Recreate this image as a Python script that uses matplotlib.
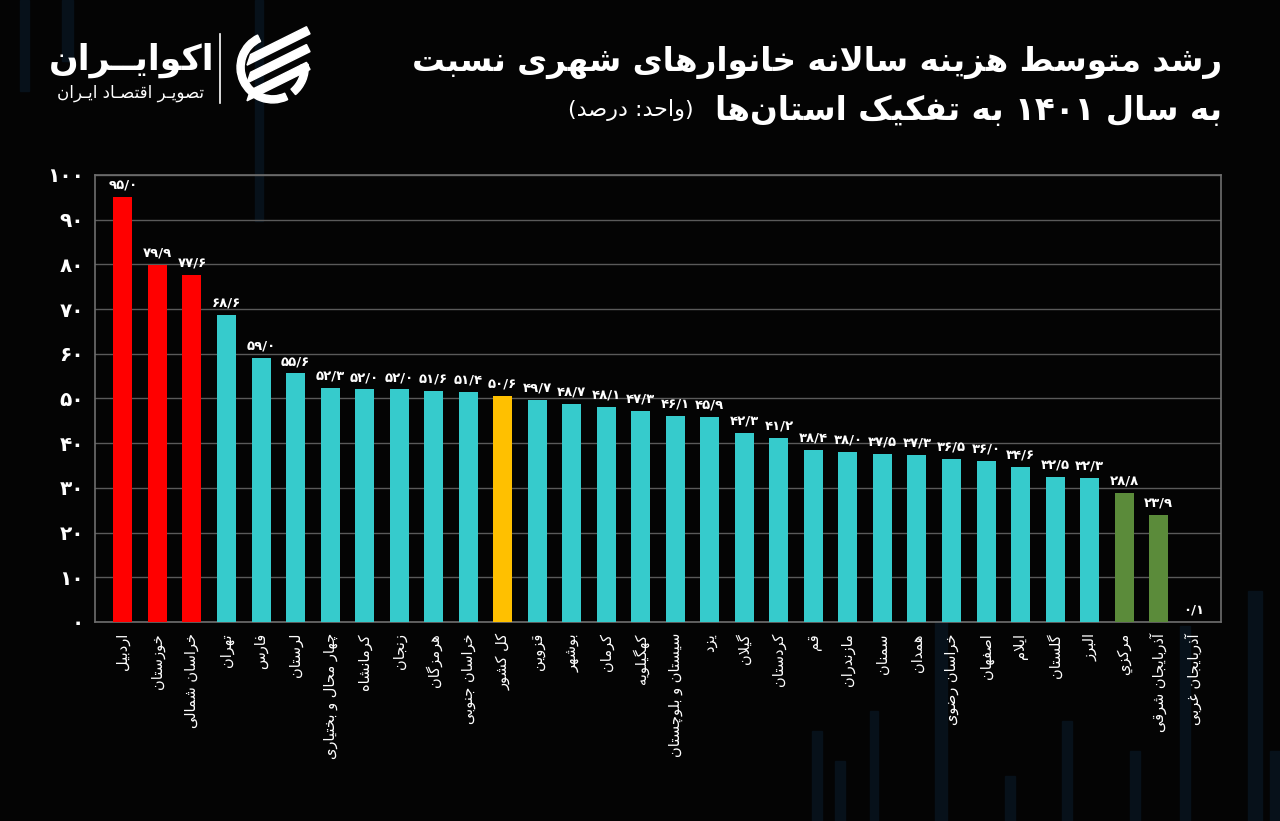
import re
import matplotlib
matplotlib.use("Agg")
import matplotlib.pyplot as plt
from matplotlib.patches import Wedge, Polygon, Rectangle

# ---- data (left to right as in the chart) ----
provinces = [
    "اردبیل", "خوزستان", "خراسان شمالی", "تهران", "فارس", "لرستان",
    "چهار محال و بختیاری", "کرمانشاه", "زنجان", "هرمزگان", "خراسان جنوبی",
    "کل کشور", "قزوین", "بوشهر", "کرمان", "کهگیلویه", "سیستان و بلوچستان",
    "یزد", "گیلان", "کردستان", "قم", "مازندران", "سمنان", "همدان",
    "خراسان رضوی", "اصفهان", "ایلام", "گلستان", "البرز", "مرکزي",
    "آذربایجان شرقی", "آذربایجان غربی",
]
growth = [
    95.0, 79.9, 77.6, 68.6, 59.0, 55.6, 52.3, 52.0, 52.0, 51.6, 51.4,
    50.6, 49.7, 48.7, 48.1, 47.3, 46.1, 45.9, 42.3, 41.2, 38.4, 38.0,
    37.5, 37.3, 36.5, 36.0, 34.6, 32.5, 32.3, 28.8, 23.9, 0.1,
]
# colour group of each bar
groups = (["high"] * 3 + ["normal"] * 8 + ["country"] + ["normal"] * 17
          + ["low"] * 3)
group_colors = {"high": "#ff0000", "normal": "#36cbcc",
                "country": "#ffc000", "low": "#5b8b3a"}
yticks = [0, 10, 20, 30, 40, 50, 60, 70, 80, 90, 100]

title_line1 = "رشد متوسط هزینه سالانه خانوارهای شهری نسبت"
title_line2 = "به سال 1401 به تفکیک استان\u200cها"
unit_note = "(واحد: درصد)"
brand = "اکوایــران"
brand_sub = "تصویـر اقتصـاد ایـران"

# ---- minimal Persian shaping + RTL ordering (no reshaper libs available) ----
# forms: isolated, final, initial, medial (None = does not join that side)
FORMS = {
    "\u0621": ("\uFE80", None, None, None),
    "\u0622": ("\uFE81", "\uFE82", None, None),
    "\u0627": ("\uFE8D", "\uFE8E", None, None),
    "\u0628": ("\uFE8F", "\uFE90", "\uFE91", "\uFE92"),
    "\u062A": ("\uFE95", "\uFE96", "\uFE97", "\uFE98"),
    "\u062B": ("\uFE99", "\uFE9A", "\uFE9B", "\uFE9C"),
    "\u062C": ("\uFE9D", "\uFE9E", "\uFE9F", "\uFEA0"),
    "\u062D": ("\uFEA1", "\uFEA2", "\uFEA3", "\uFEA4"),
    "\u062E": ("\uFEA5", "\uFEA6", "\uFEA7", "\uFEA8"),
    "\u062F": ("\uFEA9", "\uFEAA", None, None),
    "\u0630": ("\uFEAB", "\uFEAC", None, None),
    "\u0631": ("\uFEAD", "\uFEAE", None, None),
    "\u0632": ("\uFEAF", "\uFEB0", None, None),
    "\u0633": ("\uFEB1", "\uFEB2", "\uFEB3", "\uFEB4"),
    "\u0634": ("\uFEB5", "\uFEB6", "\uFEB7", "\uFEB8"),
    "\u0635": ("\uFEB9", "\uFEBA", "\uFEBB", "\uFEBC"),
    "\u0636": ("\uFEBD", "\uFEBE", "\uFEBF", "\uFEC0"),
    "\u0637": ("\uFEC1", "\uFEC2", "\uFEC3", "\uFEC4"),
    "\u0638": ("\uFEC5", "\uFEC6", "\uFEC7", "\uFEC8"),
    "\u0639": ("\uFEC9", "\uFECA", "\uFECB", "\uFECC"),
    "\u063A": ("\uFECD", "\uFECE", "\uFECF", "\uFED0"),
    "\u0641": ("\uFED1", "\uFED2", "\uFED3", "\uFED4"),
    "\u0642": ("\uFED5", "\uFED6", "\uFED7", "\uFED8"),
    "\u0644": ("\uFEDD", "\uFEDE", "\uFEDF", "\uFEE0"),
    "\u0645": ("\uFEE1", "\uFEE2", "\uFEE3", "\uFEE4"),
    "\u0646": ("\uFEE5", "\uFEE6", "\uFEE7", "\uFEE8"),
    "\u0647": ("\uFEE9", "\uFEEA", "\uFEEB", "\uFEEC"),
    "\u0648": ("\uFEED", "\uFEEE", None, None),
    "\u064A": ("\uFEF1", "\uFEF2", "\uFEF3", "\uFEF4"),
    "\u067E": ("\uFB56", "\uFB57", "\uFB58", "\uFB59"),
    "\u0686": ("\uFB7A", "\uFB7B", "\uFB7C", "\uFB7D"),
    "\u0698": ("\uFB8A", "\uFB8B", None, None),
    "\u06A9": ("\uFB8E", "\uFB8F", "\uFB90", "\uFB91"),
    "\u06AF": ("\uFB92", "\uFB93", "\uFB94", "\uFB95"),
    "\u06CC": ("\uFBFC", "\uFBFD", "\uFBFE", "\uFBFF"),
    "\u0640": ("\u0640", "\u0640", "\u0640", "\u0640"),
    "\uFEFB": ("\uFEFB", "\uFEFC", None, None),  # lam-alef
    "\uFEF5": ("\uFEF5", "\uFEF6", None, None),  # lam-alef madda
}
FA_DIGITS = str.maketrans("0123456789", "۰۱۲۳۴۵۶۷۸۹")


def fa(text):
    text = text.replace("\u0644\u0622", "\uFEF5").replace("\u0644\u0627", "\uFEFB")
    chars = list(text)
    out = []
    for i, c in enumerate(chars):
        if c not in FORMS:
            out.append(c)
            continue
        f = FORMS[c]
        prev = chars[i - 1] if i > 0 else None
        nxt = chars[i + 1] if i + 1 < len(chars) else None
        join_prev = f[1] is not None and prev in FORMS and FORMS[prev][2] is not None
        join_next = f[2] is not None and nxt in FORMS and FORMS[nxt][1] is not None
        if join_prev and join_next:
            out.append(f[3])
        elif join_prev:
            out.append(f[1])
        elif join_next:
            out.append(f[2])
        else:
            out.append(f[0])
    shaped = "".join(out).replace("\u200c", "").translate(FA_DIGITS)
    # visual order: reverse, keep number runs left-to-right, mirror brackets
    vis = shaped[::-1].translate(str.maketrans("()", ")("))
    vis = re.sub(r"[۰-۹/]+", lambda m: m.group(0)[::-1], vis)
    return vis


def fa_num(v, fmt="{:.1f}"):
    return fmt.format(v).replace(".", "/").translate(FA_DIGITS)


# ---- figure ----
plt.rcParams["font.family"] = ["DejaVu Sans"]
bg = "#040404"
fig = plt.figure(figsize=(12.8, 8.21), dpi=100, facecolor=bg)

# faint decorative stripes of the background artwork (x, y, w, h in figure px)
stripes = [(20, 730, 9, 91), (62, 760, 11, 61), (255, 600, 8, 221),
           (812, 0, 10, 90), (835, 0, 10, 60), (870, 0, 8, 110),
           (935, 0, 12, 200), (1005, 0, 10, 45), (1062, 0, 10, 100),
           (1130, 0, 10, 70), (1180, 0, 10, 195), (1248, 0, 14, 230),
           (1270, 0, 10, 70)]
for sx, sy, sw, sh in stripes:
    fig.add_artist(Rectangle((sx / 1280, sy / 821), sw / 1280, sh / 821,
                             transform=fig.transFigure, color="#07111a",
                             zorder=0))

ax = fig.add_axes([0.0742, 0.2424, 0.8798, 0.5446], facecolor="none")

x = list(range(len(provinces)))
colors = [group_colors[g] for g in groups]
bars = ax.bar(x, growth, width=0.55, color=colors, zorder=3)

for xi, v in zip(x, growth):
    ax.text(xi, v + 1.2, fa_num(v), ha="center", va="bottom", color="white",
            fontsize=9.5, fontweight="bold", zorder=4)

ax.set_xlim(-0.81, len(provinces) - 0.19)
ax.set_ylim(0, 100)
ax.set_yticks(yticks)
ax.set_yticklabels([fa_num(t, "{:d}") for t in yticks], color="white",
                   fontsize=14.5, fontweight="bold")
ax.set_xticks(x)
ax.set_xticklabels([fa(p) for p in provinces], rotation=90, va="top",
                   ha="center", color="white", fontsize=10.5)
ax.tick_params(axis="both", length=0)
ax.tick_params(axis="x", pad=8)
ax.tick_params(axis="y", pad=8)
ax.grid(axis="y", color="#5a5a5a", linewidth=1, zorder=0)
for s in ax.spines.values():
    s.set_color("#6e6e6e")
    s.set_linewidth(1.2)

# ---- titles ----
t1 = fig.text(0.955, 0.924, fa(title_line1), ha="right", va="center",
              color="white", fontsize=23.5, fontweight="bold")
t2 = fig.text(0.955, 0.866, fa(title_line2), ha="right", va="center",
              color="white", fontsize=23.5, fontweight="bold")
fig.canvas.draw()
bb = t2.get_window_extent()
fig.text((bb.x0 - 22) / fig.bbox.width, 0.866, fa(unit_note), ha="right",
         va="center", color="white", fontsize=16)

# ---- brand block ----
fig.text(0.103, 0.927, fa(brand), ha="center", va="center", color="white",
         fontsize=25, fontweight="bold")
fig.text(0.102, 0.887, fa(brand_sub), ha="center", va="center",
         color="white", fontsize=12)
fig.add_artist(plt.Line2D([0.172, 0.172], [0.874, 0.958], color="white",
                          linewidth=1.2, transform=fig.transFigure))
icon = fig.add_axes([0.181, 0.868, 0.064, 0.1], facecolor="none")
icon.set_xlim(-1.15, 1.15)
icon.set_ylim(-1.15, 1.15)
icon.set_aspect("equal")
icon.axis("off")
icon.add_patch(Wedge((0, 0), 1.0, 115, 295, width=0.2, color="white"))
icon.add_patch(Wedge((0, 0), 1.0, -50, 5, width=0.2, color="white"))
for c in (0.42, -0.08, -0.58):
    icon.add_patch(Polygon([(-0.72, -0.36 + c), (1.05, 0.52 + c),
                            (0.95, 0.72 + c), (-0.62, -0.06 + c)],
                           closed=True, color="white", clip_on=False))

fig.savefig("out.png", dpi=100, facecolor=bg)
